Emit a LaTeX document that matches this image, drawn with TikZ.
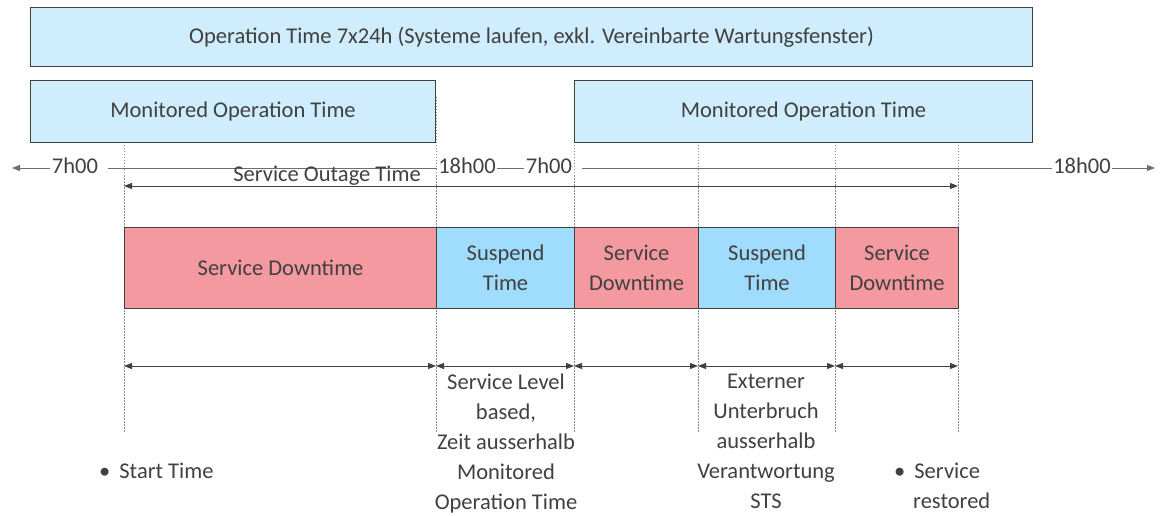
\documentclass[tikz,border=0pt]{standalone}
\usepackage{fontspec}
\setmainfont{Carlito}
\usetikzlibrary{arrows.meta}
\definecolor{ink}{HTML}{404040}
\definecolor{opblue}{HTML}{CFEDFD}
\definecolor{susblue}{HTML}{A0DCFE}
\definecolor{downred}{HTML}{F599A0}
\definecolor{guide}{HTML}{8A8A8A}
\tikzset{
  every node/.style={text=ink, font=\fontsize{22.5}{30}\selectfont},
  bar/.style={draw=ink, line width=1.1pt, fill=opblue, inner sep=0pt},
  seg/.style={draw=ink, line width=1.1pt, inner sep=0pt, align=center},
  down/.style={seg, fill=downred},
  susp/.style={seg, fill=susblue},
  guideline/.style={guide, line width=0.7pt, dash pattern=on 1.5pt off 1.5pt},
  tip/.style={-{Triangle[length=8pt,width=6pt]}},
  twotip/.style={{Triangle[length=8pt,width=6pt]}-{Triangle[length=8pt,width=6pt]}},
  timeline/.style={guide!80!black, line width=0.9pt},
  span/.style={ink, line width=0.9pt},
  tlabel/.style={inner sep=1.5pt},
  note/.style={align=center, anchor=north, inner sep=0pt},
}
\begin{document}
\begin{tikzpicture}[x=1pt,y=-1pt]
\useasboundingbox (0,0) rectangle (1165,516);

% guide lines marking the phase boundaries
\foreach \gx/\gn in {124/a,436/b,574/c,698/d,835/e,958/f}{
  \coordinate (g\gn top) at (\gx,142);
  \coordinate (g\gn bot) at (\gx,432);
  \draw[guideline] (g\gn top) -- (g\gn bot);
}
\draw[guideline] (436,97) -- (436,142);

% operation time bars
\node[bar, minimum width=1002pt, minimum height=59pt, anchor=north west] (op) at (30,7)
  {Operation Time 7x24h (Systeme laufen, exkl. Vereinbarte Wartungsfenster)};
\node[bar, minimum width=405pt, minimum height=62pt, anchor=north west] (mon1) at (30,80)
  {Monitored Operation Time};
\node[bar, minimum width=458pt, minimum height=62pt, anchor=north west] (mon2) at (574,80)
  {Monitored Operation Time};

% clock timeline
\coordinate (tlL) at (12,168);
\coordinate (tlR) at (1155,168);
\node[tlabel] (t1) at (75,166) {7h00};
\node[tlabel] (t2) at (467,166) {18h00};
\node[tlabel] (t3) at (549,166) {7h00};
\node[tlabel] (t4) at (1082,166) {18h00};
\draw[timeline, tip] (t1.west |- tlL) -- (tlL);
\draw[timeline] ([xshift=8pt]t1.east |- tlL) -- (t2.west |- tlL);
\draw[timeline] (t2.east |- tlL) -- (t3.west |- tlL);
\draw[timeline] ([xshift=8pt]t3.east |- tlL) -- (t4.west |- tlL);
\draw[timeline, tip] (t4.east |- tlL) -- (tlR);

% service outage span
\coordinate (soL) at (124,186);
\coordinate (soR) at (958,186);
\draw[span, twotip] (soL) -- (soR);
\node[inner sep=0pt] (solabel) at (327,176) {Service Outage Time};

% outage phases
\node[down, minimum width=312pt, minimum height=81pt, anchor=north west] (p1) at (124,227) {Service Downtime};
\node[susp, minimum width=138pt, minimum height=81pt, anchor=north west] (p2) at (436,227) {Suspend\\Time};
\node[down, minimum width=124pt, minimum height=81pt, anchor=north west] (p3) at (574,227) {Service\\Downtime};
\node[susp, minimum width=137pt, minimum height=81pt, anchor=north west] (p4) at (698,227) {Suspend\\Time};
\node[down, minimum width=123pt, minimum height=81pt, anchor=north west] (p5) at (835,227) {Service\\Downtime};

% phase durations
\foreach \l/\r in {a/b,b/c,c/d,d/e,e/f}{
  \coordinate (s\l) at ([yshift=66pt]g\l bot);
  \coordinate (e\r) at ([yshift=66pt]g\r bot);
  \draw[span, twotip] (s\l) -- (e\r);
}

% explanations
\node[note] (n2) at (506,374) {Service Level\\based,\\Zeit ausserhalb\\Monitored\\Operation Time};
\node[note] (n4) at (766,374) {Externer\\Unterbruch\\ausserhalb\\Verantwortung\\STS};
\node[anchor=west, inner sep=0pt] (start) at (99,471) {•\hspace{9pt}Start Time};
\node[anchor=north west, inner sep=0pt, align=left] (restored) at (894,463) {•\hspace{9pt}Service\\\hspace{19pt}restored};
\end{tikzpicture}
\end{document}
